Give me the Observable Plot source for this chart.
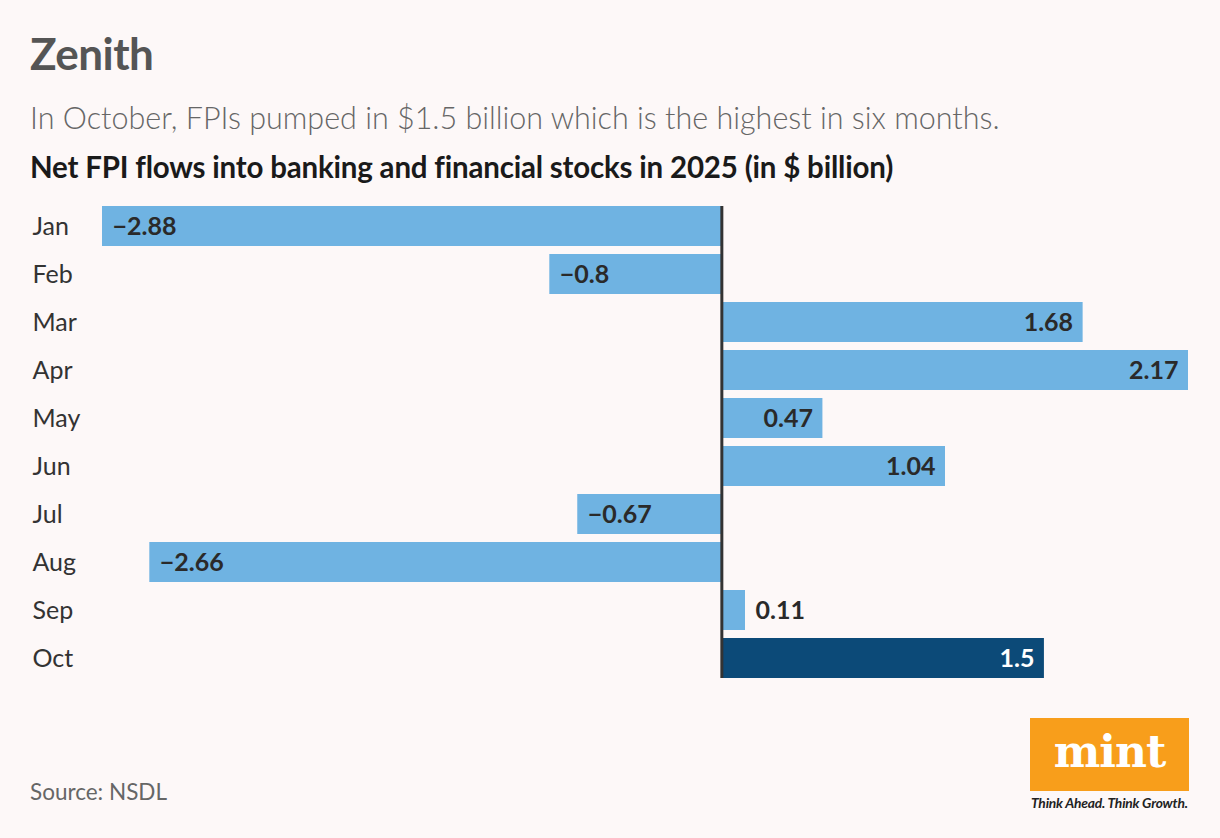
<!DOCTYPE html>
<html>
<head>
<meta charset="utf-8">
<script src="https://cdn.jsdelivr.net/npm/d3@7"></script>
<script src="https://cdn.jsdelivr.net/npm/@observablehq/plot@0.6"></script>
<style>
  html, body { margin: 0; padding: 0; }
  body { width: 1220px; height: 838px; background: #fdf8f8; position: relative; overflow: hidden; font-family: Lato, "Open Sans", sans-serif; }
  .t { position: absolute; white-space: nowrap; }
  #title { left: 30px; top: 27px; font-size: 44px; font-weight: 700; color: #555; letter-spacing: -0.5px; }
  #subtitle { left: 30px; top: 99px; font-size: 30.5px; font-weight: 300; color: #666; }
  #ctitle { left: 30px; top: 149px; font-size: 29.5px; font-weight: 700; color: #1a1a1a; letter-spacing: -0.2px; }
  #chart { position: absolute; left: 0; top: 190px; }
  #source { left: 30px; top: 778px; font-size: 22.5px; font-weight: 400; color: #666; }
  #logo { position: absolute; left: 1030px; top: 718px; width: 159px; height: 73px; background: #f89e1b; color: #fff; font-family: "DejaVu Serif", "Liberation Serif", serif; font-weight: 700; font-size: 44px; text-align: center; line-height: 68px; letter-spacing: -1px; }
  #tag { left: 1031px; top: 794px; font-size: 13.8px; font-style: italic; font-weight: 700; color: #222; letter-spacing: -0.2px; }
</style>
</head>
<body>
<div class="t" id="title">Zenith</div>
<div class="t" id="subtitle">In October, FPIs pumped in $1.5 billion which is the highest in six months.</div>
<div class="t" id="ctitle">Net FPI flows into banking and financial stocks in 2025 (in $ billion)</div>
<div id="chart"></div>
<div class="t" id="source">Source: NSDL</div>
<div id="logo">mint</div>
<div class="t" id="tag">Think Ahead. Think Growth.</div>
<script>
const months = ["Jan", "Feb", "Mar", "Apr", "May", "Jun", "Jul", "Aug", "Sep", "Oct"];
const values = [-2.88, -0.8, 1.68, 2.17, 0.47, 1.04, -0.67, -2.66, 0.11, 1.5];
const highlight = "Oct";

const data = months.map((m, i) => ({month: m, value: values[i], hi: m === highlight}));
const fmt = d3.format("");
const lightBlue = "#6fb3e2";
const darkBlue = "#0c4a78";

const chart = Plot.plot({
  width: 1220,
  height: 506,
  marginTop: 8,
  marginBottom: 10,
  marginLeft: 102,
  marginRight: 32,
  style: {background: "transparent", fontFamily: "Lato, 'Open Sans', sans-serif"},
  x: {domain: [-2.88, 2.17], axis: null},
  y: {domain: months, padding: 1 / 6, round: false, label: null},
  marks: [
    Plot.barX(data, {x: "value", y: "month", fill: d => d.hi ? darkBlue : lightBlue}),
    Plot.ruleX([0], {stroke: "#333", strokeWidth: 3, insetTop: 8, insetBottom: 8}),
    Plot.axisY({tickSize: 0, tickPadding: 70, textAnchor: "start", fontSize: 25, fill: "#333", label: null}),
    Plot.text(data.filter(d => d.value < 0), {x: "value", y: "month", text: d => fmt(d.value), textAnchor: "start", dx: 10, fontSize: 25, fontWeight: 700, fill: "#2a2a2a"}),
    Plot.text(data.filter(d => d.value >= 0.3), {x: "value", y: "month", text: d => fmt(d.value), textAnchor: "end", dx: -10, fontSize: 25, fontWeight: 700, fill: d => d.hi ? "#ffffff" : "#2a2a2a"}),
    Plot.text(data.filter(d => d.value >= 0 && d.value < 0.3), {x: "value", y: "month", text: d => fmt(d.value), textAnchor: "start", dx: 10, fontSize: 25, fontWeight: 700, fill: "#2a2a2a"})
  ]
});
document.getElementById("chart").appendChild(chart);
</script>
</body>
</html>
